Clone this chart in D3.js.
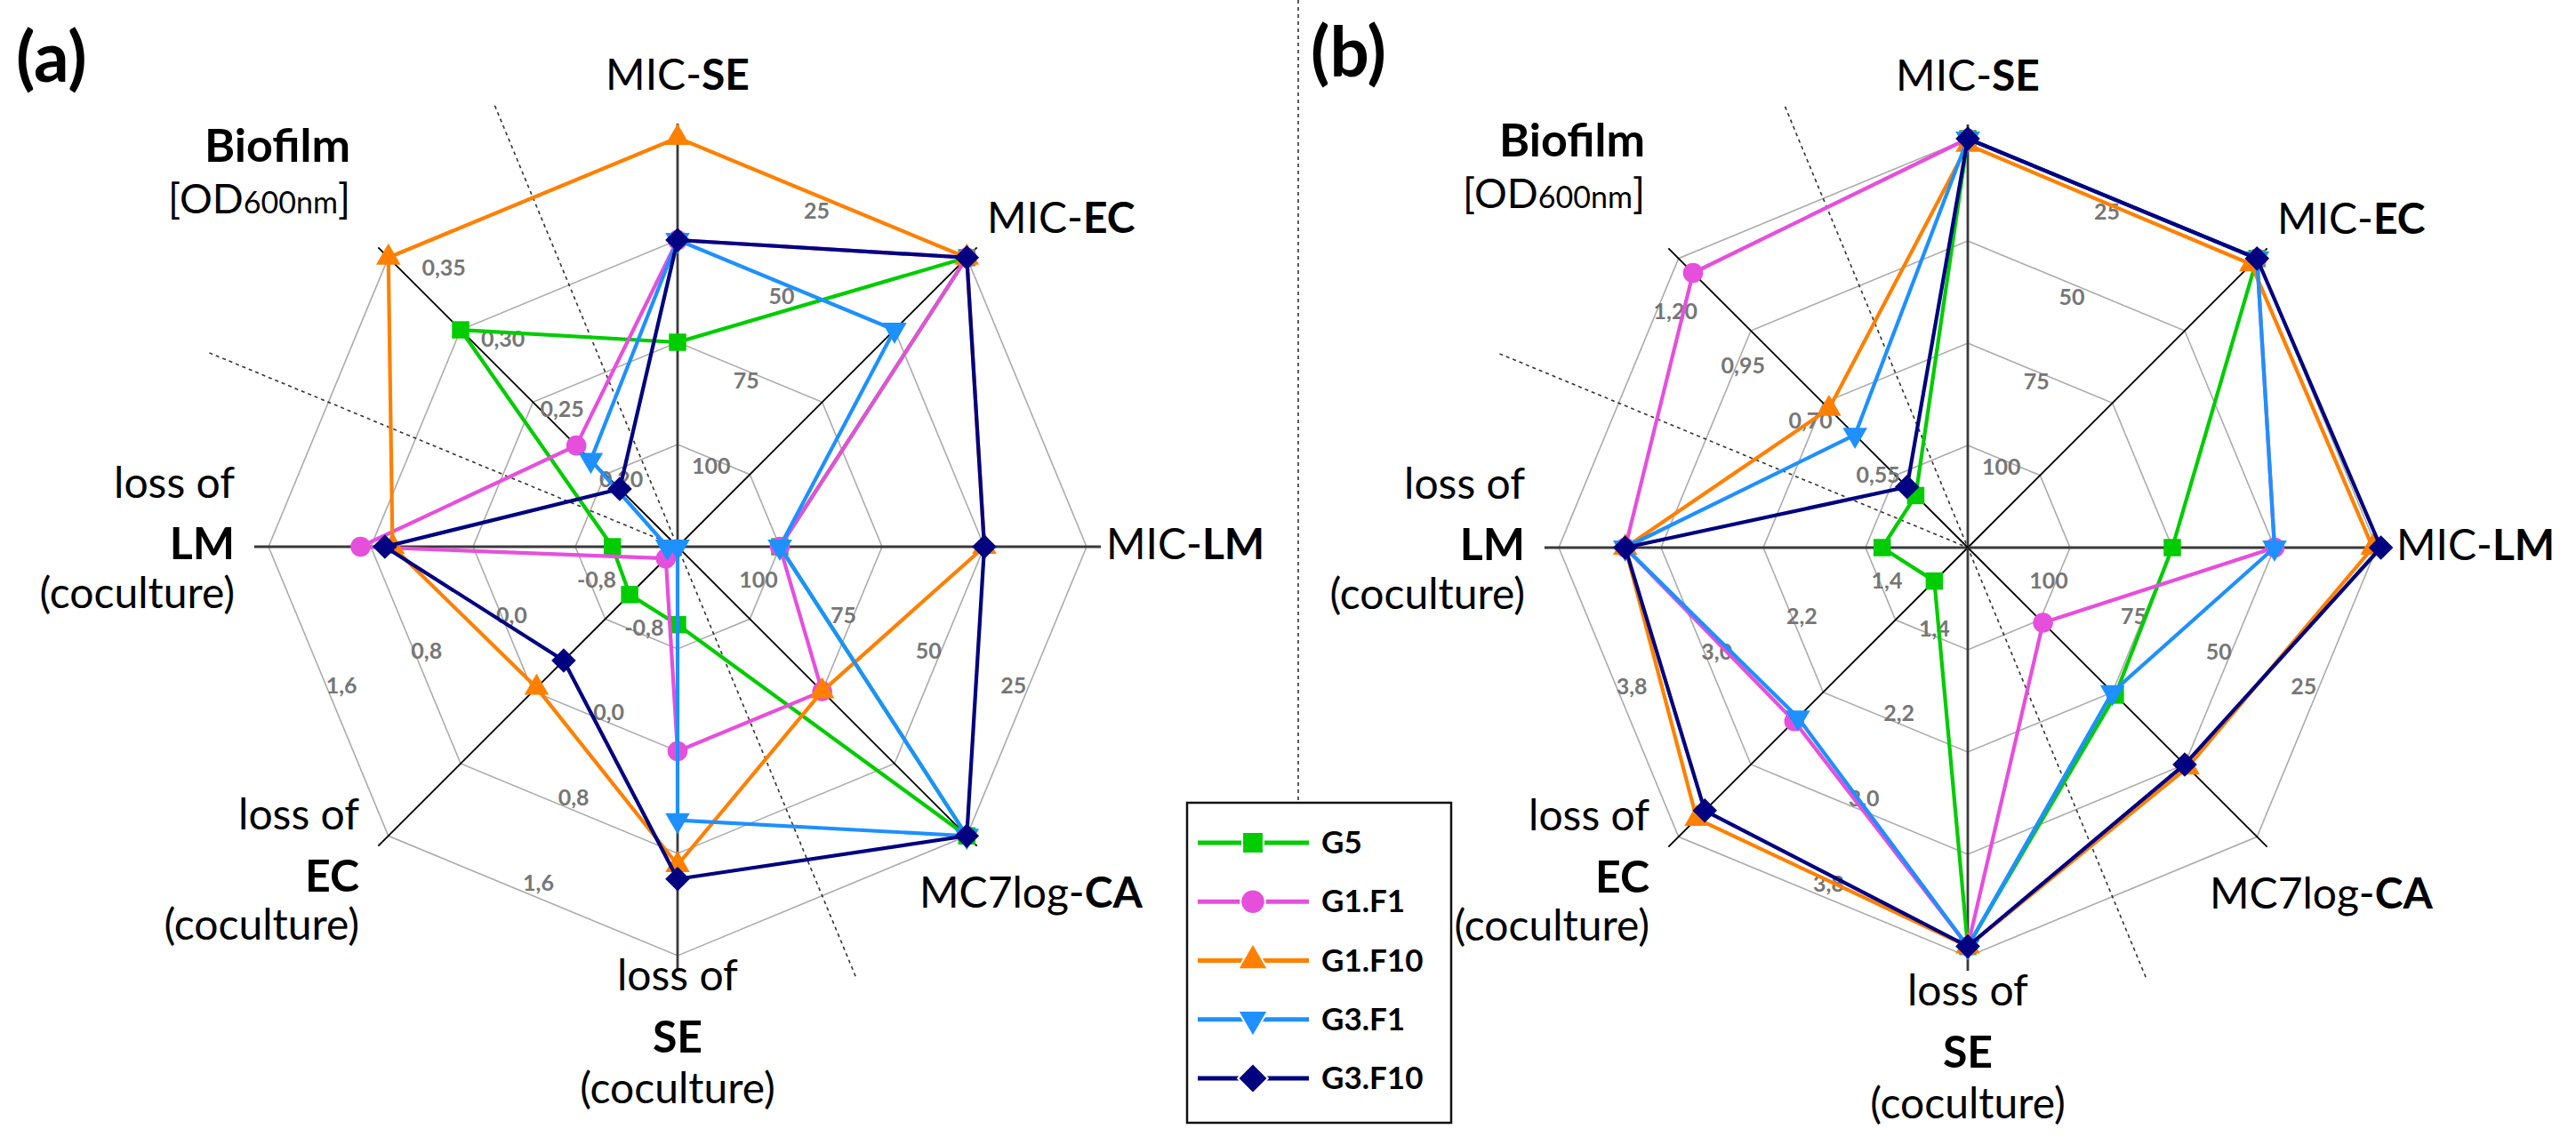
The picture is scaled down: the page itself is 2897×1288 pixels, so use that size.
<!DOCTYPE html>
<html><head><meta charset="utf-8">
<script src="https://cdn.jsdelivr.net/npm/d3@7"></script>
<style>
body{margin:0;background:#fff;}
svg{display:block;}
text{font-family:Lato,"Open Sans",sans-serif;}
</style>
</head><body>
<svg id="chart" width="2897" height="1288"></svg>
<script>
// ---------------- DATA ----------------
const axisNames = ["MIC-SE","MIC-EC","MIC-LM","MC7log-CA","loss of SE","loss of EC","loss of LM","Biofilm"];
const seriesNames = ["G5","G1.F1","G1.F10","G3.F1","G3.F10"];

// panel (a) values, in axis order
const a_G5    = [75, 25, 100, 25, -0.99, -1.07, -1.09, 0.30];
const a_G1F1  = [50, 25, 100, 75,  0.00, -1.47,  0.88, 0.22];
const a_G1F10 = [25, 25,  50, 75,  0.89, -0.04,  0.63, 0.35];
const a_G3F1  = [50, 50, 100, 25,  0.54, -1.60, -1.52, 0.21];
const a_G3F10 = [50, 25,  50, 25,  1.00, -0.34,  0.69, 0.19];

// panel (b) values, in axis order
const b_G5    = [25,   25, 75, 74, 3.72, 0.97, 1.27, 0.38];
const b_G1F1  = [25,   25, 50, 99, 3.72, 2.52, 3.28, 1.15];
const b_G1F10 = [26.5, 27, 26, 49, 3.72, 3.60, 3.28, 0.68];
const b_G3F1  = [25,   25, 50, 75, 3.72, 2.48, 3.28, 0.59];
const b_G3F10 = [25,   25, 24, 50, 3.72, 3.51, 3.28, 0.41];

// tick labels (rings 1..4)
const micTicks      = ["100","75","50","25"];
const lossTicksA    = ["-0,8","0,0","0,8","1,6"];
const biofilmTicksA = ["0,20","0,25","0,30","0,35"];
const lossTicksB    = ["1,4","2,2","3,0","3,8"];
const biofilmTicksB = ["0,55","0,70","0,95","1,20"];

// value domains: [value at centre, value at outer ring]
const micDomain      = [125, 25];
const lossDomainA    = [-1.6, 1.6];
const biofilmDomainA = [0.15, 0.35];
const lossDomainB    = [0.6, 3.8];
const biofilmDomainB = [0.20, 1.20];

// ---------------- STYLE / LAYOUT ----------------
const colors = ["#00CC00","#E64FDC","#FF8000","#1E90FF","#000080"];
const R = 460;
const svg = d3.select("#chart");
svg.append("rect").attr("width",2897).attr("height",1288).attr("fill","#fff");

const panels = [
  { letter:"(a)", series:[a_G5,a_G1F1,a_G1F10,a_G3F1,a_G3F10],
    domains:[micDomain,micDomain,micDomain,micDomain,lossDomainA,lossDomainA,lossDomainA,biofilmDomainA],
    ticks:[micTicks,micTicks,lossTicksA,lossTicksA,biofilmTicksA] },
  { letter:"(b)", series:[b_G5,b_G1F1,b_G1F10,b_G3F1,b_G3F10],
    domains:[micDomain,micDomain,micDomain,micDomain,lossDomainB,lossDomainB,lossDomainB,biofilmDomainB],
    ticks:[micTicks,micTicks,lossTicksB,lossTicksB,biofilmTicksB] }
];
const stdTickR = r => r*0.9 - 5;
const layouts = [
  { cx:762,  cy:615, letterX:18,   letterY:92, bottomShift:0,  bioX:-368, bioY:-433,
    tickAngles:[22.5,112.5,202.5,247.5,320], tickR:[stdTickR,stdTickR,stdTickR,stdTickR,stdTickR] },
  { cx:2213, cy:616, letterX:1474, letterY:86, bottomShift:16, bioX:-363, bioY:-440,
    tickAngles:[22.5,112.5,202.5,247.5,309], tickR:[stdTickR,stdTickR,stdTickR,stdTickR,r=>r*0.85+32] }
];

function polar(cx, cy, r, deg){
  const t = deg*Math.PI/180;
  return [cx + r*Math.sin(t), cy - r*Math.cos(t)];
}

const symbolFor = [
  {type:d3.symbolSquare, size:380, rot:0},
  {type:d3.symbolCircle, size:400, rot:0},
  {type:d3.symbolTriangle, size:330, rot:0},
  {type:d3.symbolTriangle, size:330, rot:180},
  {type:d3.symbolSquare, size:380, rot:45}
];

function richText(g, x, y, anchor, parts, size){
  const t = g.append("text").attr("x",x).attr("y",y).attr("text-anchor",anchor)
    .attr("font-size",size).attr("fill","#000");
  parts.forEach(p=>{
    t.append("tspan").text(p.t)
      .attr("font-weight", p.b ? "bold" : "normal")
      .attr("font-size", p.s || size);
  });
  return t;
}

panels.forEach((P, pi)=>{
  const L = layouts[pi];
  const g = svg.append("g");
  const cx = L.cx, cy = L.cy;
  const nAx = axisNames.length;
  const angleOf = i => i*360/nAx;
  const rScale = P.domains.map(d => d3.scaleLinear().domain(d).range([0,R]));

  // grid rings
  const ringScale = d3.scaleLinear().domain([0,4]).range([0,R]);
  d3.range(1,5).forEach(k=>{
    const pts = d3.range(nAx).map(i=>polar(cx,cy,ringScale(k),angleOf(i)));
    g.append("path").attr("d", d3.line().curve(d3.curveLinearClosed)(pts))
      .attr("fill","none").attr("stroke","#ABABAB").attr("stroke-width",1.6);
  });

  // dotted guide lines
  const dl = (a1,r1,a2,r2)=>{
    const p1 = polar(cx,cy,r1,a1), p2 = polar(cx,cy,r2,a2);
    g.append("line").attr("x1",p1[0]).attr("y1",p1[1]).attr("x2",p2[0]).attr("y2",p2[1])
      .attr("stroke","#333").attr("stroke-width",1.6).attr("stroke-dasharray","4,4");
  };
  dl(337.5, 537, 157.5, 524);
  dl(292.5, 570, 0, 0);

  // axes
  d3.range(nAx).forEach(i=>{
    const p = polar(cx,cy,R*1.035,angleOf(i));
    const ortho = i%2===0;
    g.append("line").attr("x1",cx).attr("y1",cy).attr("x2",p[0]).attr("y2",p[1])
      .attr("stroke", ortho ? "#3a3a3a" : "#000").attr("stroke-width", ortho ? 2.8 : 1.8);
  });

  // tick labels
  P.ticks.forEach((labels, si)=>{
    const ang = L.tickAngles[si];
    labels.forEach((lab,k)=>{
      const p = polar(cx,cy,L.tickR[si](ringScale(k+1)),ang);
      g.append("text").attr("x",p[0]).attr("y",p[1]).attr("dy","0.35em")
        .attr("text-anchor","middle").attr("font-size",25).attr("font-weight","bold")
        .attr("fill","#767676")
        .text(lab);
    });
  });

  // series
  P.series.forEach((vals, s)=>{
    const pts = vals.map((v,i)=>polar(cx,cy,rScale[i](v),angleOf(i)));
    g.append("path").attr("d", d3.line().curve(d3.curveLinearClosed)(pts))
      .attr("fill","none").attr("stroke",colors[s]).attr("stroke-width",4.2)
      .attr("stroke-linejoin","round");
    const sym = symbolFor[s];
    pts.forEach(p=>{
      g.append("path").attr("d", d3.symbol().type(sym.type).size(sym.size)())
        .attr("transform",`translate(${p[0]},${p[1]}) rotate(${sym.rot})`)
        .attr("fill",colors[s]);
    });
  });

  // axis titles
  const fs = 48;
  const mic = n => { const k = n.indexOf("-"); return [{t:n.slice(0,k+1)},{t:n.slice(k+1),b:true}]; };
  richText(g, cx, cy-514, "middle", mic(axisNames[0]), fs);
  richText(g, cx+348, cy-353, "start", mic(axisNames[1]), fs);
  richText(g, cx+482, cy+14, "start", mic(axisNames[2]), fs);
  richText(g, cx+272, cy+406, "start", mic(axisNames[3]), fs);
  const loss = n => n.replace("loss of ","");
  const bs = L.bottomShift;
  richText(g, cx, cy+499+bs, "middle", [{t:"loss of"}], fs);
  richText(g, cx, cy+569+bs, "middle", [{t:loss(axisNames[4]),b:true}], fs+2);
  richText(g, cx, cy+626+bs, "middle", [{t:"(coculture)"}], fs);
  richText(g, cx-358, cy+318, "end", [{t:"loss of"}], fs);
  richText(g, cx-358, cy+388, "end", [{t:loss(axisNames[5]),b:true}], fs+2);
  richText(g, cx-358, cy+442, "end", [{t:"(coculture)"}], fs);
  richText(g, cx-498, cy-55, "end", [{t:"loss of"}], fs);
  richText(g, cx-498, cy+14, "end", [{t:loss(axisNames[6]),b:true}], fs+2);
  richText(g, cx-498, cy+69, "end", [{t:"(coculture)"}], fs);
  richText(g, cx+L.bioX, cy+L.bioY, "end", [{t:axisNames[7],b:true}], fs+4);
  richText(g, cx+L.bioX, cy+L.bioY+58, "end", [{t:"[OD"},{t:"600nm",s:34},{t:"]"}], 46);

  // panel letter
  svg.append("text").attr("x",L.letterX).attr("y",L.letterY).attr("font-size",78)
    .attr("font-weight","bold").attr("fill","#000").text(P.letter);
});

// separator
svg.append("line").attr("x1",1460).attr("y1",0).attr("x2",1460).attr("y2",903)
  .attr("stroke","#333").attr("stroke-width",1.6).attr("stroke-dasharray","4,4");

// legend
const lg = svg.append("g");
lg.append("rect").attr("x",1335).attr("y",903).attr("width",297).attr("height",360)
  .attr("fill","#fff").attr("stroke","#111").attr("stroke-width",2.5);
const legY = d3.scalePoint().domain(seriesNames).range([948,1213]);
seriesNames.forEach((n,s)=>{
  const y = legY(n);
  lg.append("line").attr("x1",1347).attr("x2",1472).attr("y1",y).attr("y2",y)
    .attr("stroke",colors[s]).attr("stroke-width",5);
  const sym = symbolFor[s];
  lg.append("path").attr("d", d3.symbol().type(sym.type).size(sym.size*1.5)())
    .attr("transform",`translate(1409,${y}) rotate(${sym.rot})`)
    .attr("fill",colors[s]).attr("stroke","#fff").attr("stroke-width",2);
  lg.append("text").attr("x",1486).attr("y",y+12).attr("font-size",35)
    .attr("font-weight","bold").attr("fill","#000").text(n);
});
</script>
</body></html>
